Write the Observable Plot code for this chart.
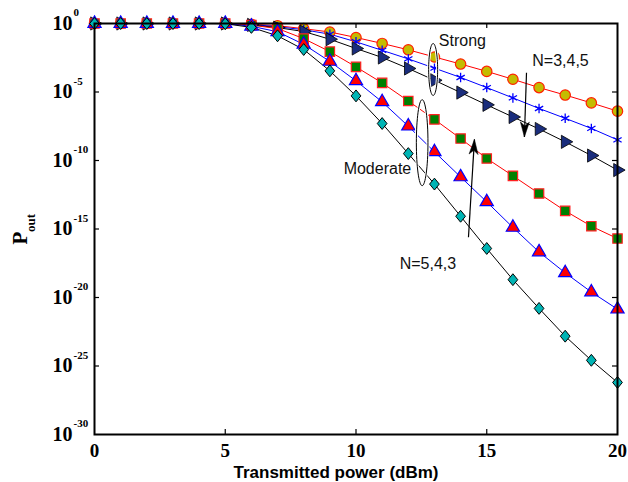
<!DOCTYPE html>
<html>
<head>
<meta charset="utf-8">
<script src="https://cdn.jsdelivr.net/npm/d3@7"></script>
<script src="https://cdn.jsdelivr.net/npm/@observablehq/plot@0.6"></script>
<style>
  html, body { margin: 0; padding: 0; background: #fff; }
  #chart svg { display: block; }
</style>
</head>
<body>
<div id="chart"></div>
<script>
// ---- data ----
const power = [0,1,2,3,4,5,6,7,8,9,10,11,12,13,14,15,16,17,18,19,20];
// Strong turbulence, N = 3, 4, 5
const strongN3 = [1,1,1,1,1,1,0.89,0.69,0.42,0.24,9.5e-2,3.5e-2,1.2e-2,3.6e-3,1.1e-3,3.2e-4,8.5e-5,2.1e-5,6.0e-6,1.6e-6,4.0e-7];
const strongN4 = [1,1,1,1,1,1,0.85,0.58,0.35,0.166,4.6e-2,1.1e-2,2.6e-3,5.5e-4,1.15e-4,2.1e-5,3.7e-6,6.3e-7,1.2e-7,2.2e-8,3.2e-9];
const strongN5 = [1,1,1,1,1,1,0.79,0.5,0.26,7.1e-2,1.5e-2,3.3e-3,5.2e-4,7.2e-5,9.1e-6,1.15e-6,1.5e-7,2.0e-8,2.3e-9,2.3e-10,2.0e-11];
// Moderate turbulence, N = 3, 4, 5
const moderateN3 = [1,1,1,1,1,1,0.76,0.43,7.9e-2,8.9e-3,6.8e-4,4.6e-5,2.2e-6,1.0e-7,4.0e-9,1.4e-10,7.6e-12,3.9e-13,2.1e-14,1.6e-15,2.0e-16];
const moderateN4 = [1,1,1,1,1,1,0.63,0.25,3.0e-2,1.7e-3,6.5e-5,1.9e-6,3.2e-8,4.3e-10,6.3e-12,9.5e-14,1.3e-15,2.1e-17,6.3e-19,2.5e-20,1.4e-21];
const moderateN5 = [1,1,1,1,1,0.96,0.52,0.126,1.26e-2,3.5e-4,5.2e-6,5.0e-8,3.2e-10,1.9e-12,8.5e-15,3.8e-17,2.0e-19,1.6e-21,1.5e-23,2.6e-25,6.3e-27];

const xTicks = [0,5,10,15,20];
const yTicks = [1e0,1e-5,1e-10,1e-15,1e-20,1e-25,1e-30];
const yTickExps = ["0","-5","-10","-15","-20","-25","-30"];
const innerXTicks = [5,10,15];
const innerYTicks = [1e-5,1e-10,1e-15,1e-20,1e-25];

const noteText = ["Strong","N=3,4,5","Moderate","N=5,4,3"];
const noteX = [14.07, 17.82, 10.82, 12.75];
const noteY = [5.0e-2, 1.74e-3, 2.34e-11, 3.0e-18];

const ellStrongX = [12.95], ellStrongY = [4.4e-4];
const ellModX = [12.53], ellModY = [2.0e-9];

const arrowX1 = [16.52, 14.3], arrowY1 = [2.5e-4, 2.5e-16];
const arrowX2 = [16.44, 14.53], arrowY2 = [5.2e-9, 3.5e-9];

// ---- tables ----
const rows = (arr) => power.map((x, i) => ({x, y: arr[i]}));
const notes = noteText.map((t, i) => ({text: t, x: noteX[i], y: noteY[i]}));
const arrows = arrowX1.map((_, i) => ({x1: arrowX1[i], y1: arrowY1[i], x2: arrowX2[i], y2: arrowY2[i]}));
const yLabels = yTicks.map((v, i) => ({y: v, e: yTickExps[i]}));

// ---- custom symbols ----
const diamond = {draw(ctx, size) { const r = Math.sqrt(size / Math.PI);
  ctx.moveTo(0, -1.1*r); ctx.lineTo(0.9*r, 0); ctx.lineTo(0, 1.1*r); ctx.lineTo(-0.9*r, 0); ctx.closePath(); }};
const ellipse = (ratio) => ({draw(ctx, size) { const ry = Math.sqrt(size / Math.PI), rx = ry * ratio, k = 0.5523;
  ctx.moveTo(rx, 0);
  ctx.bezierCurveTo(rx, k*ry, k*rx, ry, 0, ry);
  ctx.bezierCurveTo(-k*rx, ry, -rx, k*ry, -rx, 0);
  ctx.bezierCurveTo(-rx, -k*ry, -k*rx, -ry, 0, -ry);
  ctx.bezierCurveTo(k*rx, -ry, rx, -k*ry, rx, 0);
  ctx.closePath(); }});
const barb = {draw(ctx) { ctx.moveTo(0, 0); ctx.lineTo(4.5, 15); ctx.lineTo(0, 11); ctx.lineTo(-4.5, 15); ctx.closePath(); }};

const W = 628, H = 482, mL = 94, mR = 11, mT = 23, mB = 48;
const fw = W - mL - mR, fh = H - mT - mB;
const serif = "'Liberation Serif', 'Times New Roman', serif";
const sans = "'Liberation Sans', Arial, sans-serif";

const chart = Plot.plot({
  width: W, height: H,
  marginLeft: mL, marginRight: mR, marginTop: mT, marginBottom: mB,
  x: {domain: [0, 20], axis: null},
  y: {type: "log", domain: [1e-30, 1], axis: null},
  style: {background: "#fff", overflow: "visible"},
  marks: [
    // inner ticks
    Plot.tickX(innerXTicks, {x: d => d, insetTop: fh - 5, stroke: "black", strokeWidth: 1.2}),
    Plot.tickX(innerXTicks, {x: d => d, insetBottom: fh - 5, stroke: "black", strokeWidth: 1.2}),
    Plot.tickY(innerYTicks, {y: d => d, insetRight: fw - 5, stroke: "black", strokeWidth: 1.2}),
    Plot.tickY(innerYTicks, {y: d => d, insetLeft: fw - 5, stroke: "black", strokeWidth: 1.2}),
    // lines
    Plot.line(rows(strongN3), {x: "x", y: "y", stroke: "#ff0000", strokeWidth: 1}),
    Plot.line(rows(strongN4), {x: "x", y: "y", stroke: "#0000ff", strokeWidth: 1}),
    Plot.line(rows(strongN5), {x: "x", y: "y", stroke: "#000000", strokeWidth: 1}),
    Plot.line(rows(moderateN3), {x: "x", y: "y", stroke: "#ff0000", strokeWidth: 1}),
    Plot.line(rows(moderateN4), {x: "x", y: "y", stroke: "#0000ff", strokeWidth: 1}),
    Plot.line(rows(moderateN5), {x: "x", y: "y", stroke: "#000000", strokeWidth: 1}),
    // markers
    Plot.dot(rows(strongN3), {x: "x", y: "y", symbol: "circle", r: 5.2, fill: "#c4bc00", stroke: "#ff2000", strokeWidth: 1.2}),
    Plot.dot(rows(strongN4), {x: "x", y: "y", symbol: "asterisk", r: 4.5, stroke: "#0000ff", strokeWidth: 1.3}),
    Plot.dot(rows(strongN5), {x: "x", y: "y", symbol: "triangle", rotate: 90, r: 4.9, fill: "#1a2d7c", stroke: "#000", strokeWidth: 0.8}),
    Plot.dot(rows(moderateN3), {x: "x", y: "y", symbol: "square", r: 5.3, fill: "#008000", stroke: "#ff2020", strokeWidth: 1.2}),
    Plot.dot(rows(moderateN4), {x: "x", y: "y", symbol: "triangle", r: 4.9, fill: "#ff0000", stroke: "#0000ff", strokeWidth: 1.2}),
    Plot.dot(rows(moderateN5), {x: "x", y: "y", symbol: diamond, r: 5.4, fill: "#00b4b4", stroke: "#000", strokeWidth: 1}),
    // ellipses
    Plot.dot(ellStrongX, {x: d => d, y: (d, i) => ellStrongY[i], symbol: ellipse(0.173), r: 26, fill: "none", stroke: "#fff", strokeWidth: 3}),
    Plot.dot(ellStrongX, {x: d => d, y: (d, i) => ellStrongY[i], symbol: ellipse(0.173), r: 26, fill: "none", stroke: "#000", strokeWidth: 1}),
    Plot.dot(ellModX, {x: d => d, y: (d, i) => ellModY[i], symbol: ellipse(0.135), r: 43, fill: "none", stroke: "#fff", strokeWidth: 3}),
    Plot.dot(ellModX, {x: d => d, y: (d, i) => ellModY[i], symbol: ellipse(0.135), r: 43, fill: "none", stroke: "#000", strokeWidth: 1}),
    // arrows
    Plot.link(arrows, {x1: "x1", y1: "y1", x2: "x2", y2: "y2", stroke: "#000", strokeWidth: 1.2}),
    Plot.dot(arrows.slice(0, 1), {x: "x2", y: "y2", symbol: barb, r: 1, rotate: 181.8, fill: "#000", stroke: "#000", strokeWidth: 0.5}),
    Plot.dot(arrows.slice(1, 2), {x: "x2", y: "y2", symbol: barb, r: 1, rotate: 3.5, fill: "#000", stroke: "#000", strokeWidth: 0.5}),
    // annotation texts
    Plot.text(notes, {x: "x", y: "y", text: "text", fontSize: 16, fontFamily: sans, fill: "#111", lineAnchor: "middle"}),
    // frame
    Plot.frame({stroke: "#000", strokeWidth: 2}),
    // x tick labels
    Plot.text(xTicks, {x: d => d, text: d => String(d), frameAnchor: "bottom", lineAnchor: "top", dy: 9,
      fontSize: 19, fontWeight: "bold", fontFamily: serif, fill: "#000"}),
    // y tick labels: mantissa and exponent
    Plot.text(yLabels, {y: "y", text: () => "10", frameAnchor: "left", textAnchor: "end", lineAnchor: "middle", dx: -22,
      fontSize: 20, fontWeight: "bold", fontFamily: serif, fill: "#000"}),
    Plot.text(yLabels, {y: "y", text: "e", frameAnchor: "left", textAnchor: "start", lineAnchor: "middle", dx: -21, dy: -11,
      fontSize: 11, fontWeight: "bold", fontFamily: serif, fill: "#000"}),
    // axis titles
    Plot.text(["Transmitted power (dBm)"], {text: d => d, frameAnchor: "bottom", lineAnchor: "bottom", dy: 43, dx: -20,
      fontSize: 17, fontWeight: "bold", fontFamily: sans, fill: "#000"}),
    Plot.text(["P"], {text: d => d, frameAnchor: "left", rotate: -90, textAnchor: "middle", lineAnchor: "middle", dx: -74, dy: 9,
      fontSize: 21, fontWeight: "bold", fontFamily: serif, fill: "#000"}),
    Plot.text(["out"], {text: d => d, frameAnchor: "left", rotate: -90, textAnchor: "middle", lineAnchor: "middle", dx: -64, dy: -6,
      fontSize: 13, fontWeight: "bold", fontFamily: serif, fill: "#000"})
  ]
});
document.getElementById("chart").appendChild(chart);
</script>
</body>
</html>
